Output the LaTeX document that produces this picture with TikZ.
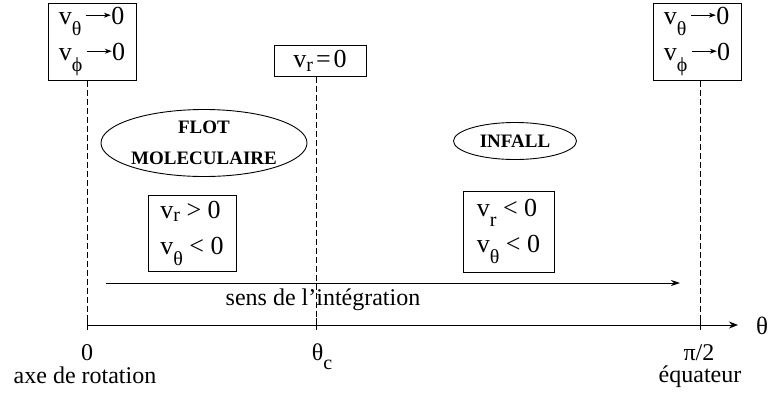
\documentclass[tikz,border=0pt]{standalone}
\usepackage{fontspec}
\setmainfont{Liberation Serif}
\usetikzlibrary{shapes.geometric,arrows.meta}
\newcommand\sbs[2][0.3em]{\raisebox{-#1}{\fontsize{20}{20}\selectfont #2}}
\newcommand\tarr{\tikz[baseline=0pt,x=1pt,y=1pt]\draw[line width=0.9pt,-{Stealth[length=7pt,width=5pt]}] (0pt,0.36em)--(0.95em,0.36em);}
\begin{document}
\begin{tikzpicture}[x=1pt,y=-1pt,
  vbox/.style={draw, line width=1pt, inner sep=0pt, font=\fontsize{26}{36}\selectfont, align=left},
  oval/.style={draw, ellipse, line width=0.9pt, inner sep=0pt, font=\fontsize{19}{31}\selectfont\bfseries, align=center},
  guide/.style={line width=0.8pt, dash pattern=on 6pt off 3pt},
  lbl/.style={font=\fontsize{24}{24}\selectfont, inner sep=0pt},
  axisarrow/.style={line width=1pt,-{Stealth[length=9pt,width=7pt]}},
]
\useasboundingbox (0,0) rectangle (768,397);

% boxes
\node[vbox, minimum width=88, minimum height=77] (bl) at (92,41.5) {v\sbs[0.42em]{θ}\,\tarr0\\v\sbs[0.42em]{ϕ}\,\tarr0};
\node[vbox, minimum width=88, minimum height=77] (br) at (697,41.5) {v\sbs[0.42em]{θ}\,\tarr0\\v\sbs[0.42em]{ϕ}\,\tarr0};
\node[vbox, minimum width=92, minimum height=31] (bm) at (320,60.5) {v\sbs[0.15em]{r}\hspace{3pt}=\hspace{3pt}0};
\node[vbox, minimum width=88, minimum height=76] (b1) at (192,233) {v\sbs[0.15em]{r} > 0\\v\sbs[0.42em]{θ} < 0};
\node[vbox, minimum width=91, minimum height=81] (b2) at (508.5,231.5) {v\sbs[0.4em]{r} < 0\\v\sbs[0.42em]{θ} < 0};

% ellipses
\node[oval, minimum width=203, minimum height=67] (flot) at (204,143) {FLOT\\MOLECULAIRE};
\node[oval, minimum width=123, minimum height=37] (inf) at (515,141) {INFALL};

% axis
\coordinate (a0) at (87,325);
\coordinate (ac) at (316,325);
\coordinate (ae) at (700,325);
\coordinate (aend) at (738,325);
\draw[axisarrow] (a0) -- (aend);
\node[font=\fontsize{25}{25}\selectfont, inner sep=0pt] (th) at (762,326) {θ};
\foreach \p in {a0,ac,ae} \draw[line width=1pt] ([yshift=-5pt]\p) -- ([yshift=7pt]\p);

% dashed guides
\draw[guide] (a0 |- bl.south) -- (a0);
\draw[guide] (ac |- bm.south) -- (ac);
\draw[guide] (ae |- br.south) -- (ae);

% integration direction
\coordinate (is) at (106,283);
\coordinate (ie) at (680,283);
\draw[line width=0.9pt,-{Stealth[length=9pt,width=6pt]}] (is) -- (ie);
\node[lbl, anchor=base] (sens) at (323,305) {sens de l'intégration};

% labels
\node[lbl, anchor=base] (l0) at (87,360) {0};
\node[lbl, anchor=base] (lc) at (322,360) {θ\sbs[0.4em]{c}};
\node[lbl, anchor=base] (lp) at (699,360) {π/2};
\node[lbl, anchor=base] (lax) at (85,383) {axe de rotation};
\node[lbl, anchor=base] (leq) at (700,382) {équateur};
\end{tikzpicture}
\end{document}
